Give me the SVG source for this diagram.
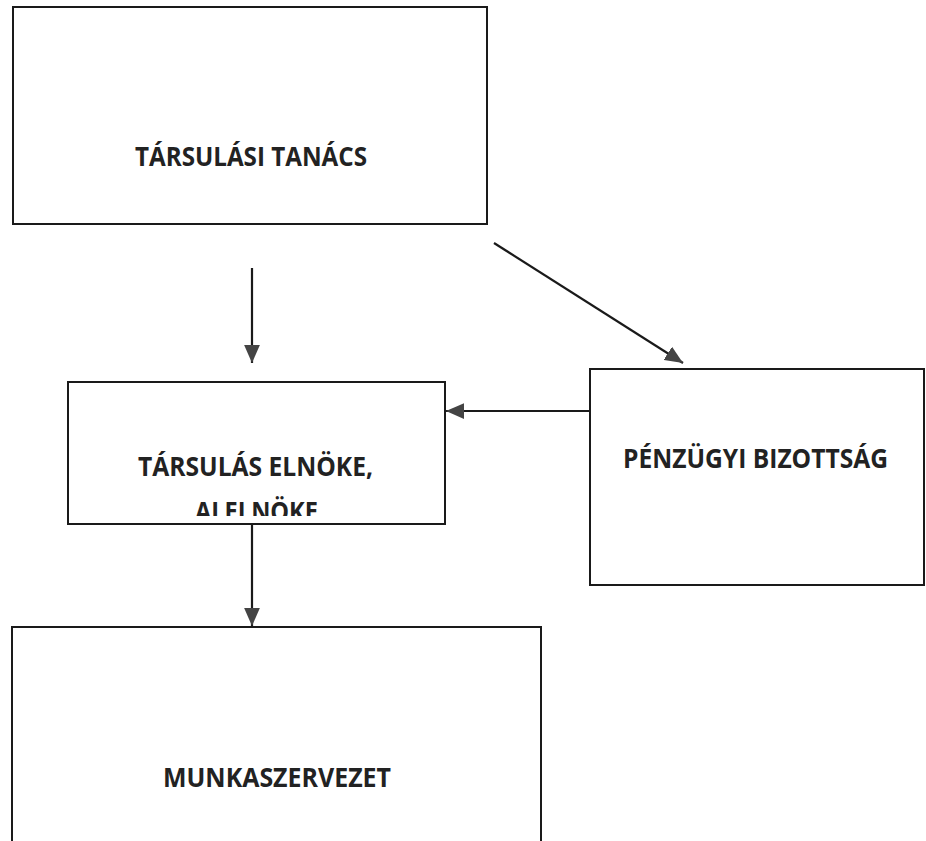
<svg xmlns="http://www.w3.org/2000/svg" width="926" height="841" viewBox="0 0 926 841">
<style>
.box{fill:#fff;stroke:#1a1a1a;stroke-width:2}
.lbl{font-family:"Open Sans","Noto Sans","DejaVu Sans",sans-serif;font-weight:bold;font-size:26px;fill:#222;text-anchor:middle}
.con{stroke:#1a1a1a;stroke-width:2.2;fill:none;marker-end:url(#arr)}
</style>
<defs>
<marker id="arr" markerUnits="userSpaceOnUse" markerWidth="18" markerHeight="16" viewBox="0 0 16 14" refX="16" refY="7" orient="auto">
<path d="M0,0 L16,7 L0,14 Z" fill="#444"/>
</marker>
<clipPath id="clip2"><rect x="68" y="382" width="377" height="134"/></clipPath>
</defs>
<rect width="926" height="841" fill="#fff"/>
<g id="tarsulasi-tanacs">
<rect class="box" x="13" y="7" width="474" height="217"/>
<text class="lbl" x="251" y="166" textLength="232" lengthAdjust="spacingAndGlyphs">TÁRSULÁSI TANÁCS</text>
</g>
<g id="elnoke">
<rect class="box" x="68" y="382" width="377" height="142"/>
<g clip-path="url(#clip2)">
<text class="lbl" x="255.5" y="476" textLength="235" lengthAdjust="spacingAndGlyphs">TÁRSULÁS ELNÖKE,</text>
<text class="lbl" x="256.5" y="521" textLength="123" lengthAdjust="spacingAndGlyphs">ALELNÖKE</text>
</g>
</g>
<g id="penzugyi-bizottsag">
<rect class="box" x="590" y="369" width="334" height="216"/>
<text class="lbl" x="755.5" y="468" textLength="265" lengthAdjust="spacingAndGlyphs">PÉNZÜGYI BIZOTTSÁG</text>
</g>
<g id="munkaszervezet">
<rect class="box" x="12" y="627" width="529" height="230"/>
<text class="lbl" x="277" y="787" textLength="228" lengthAdjust="spacingAndGlyphs">MUNKASZERVEZET</text>
</g>
<g id="connectors">
<line class="con" x1="252" y1="268" x2="252" y2="363"/>
<line class="con" x1="494" y1="243" x2="683" y2="363"/>
<line class="con" x1="590" y1="411" x2="446" y2="411"/>
<line class="con" x1="252" y1="524" x2="252" y2="626"/>
</g>
</svg>
